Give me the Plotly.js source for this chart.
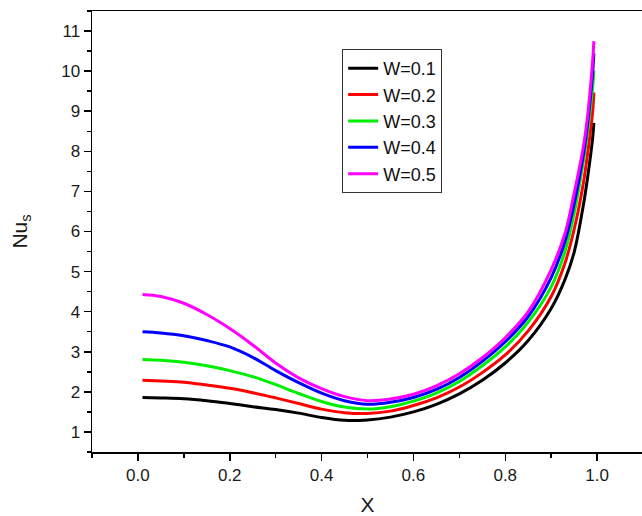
<!DOCTYPE html>
<html>
<head>
<meta charset="utf-8">
<script src="https://cdn.plot.ly/plotly-3.0.1.min.js"></script>
<style>html,body{margin:0;padding:0;overflow:hidden;background:#fff;}</style>
</head>
<body>
<div id="chart"></div>
<script>
const xValues = [0.01, 0.05, 0.1, 0.15, 0.2, 0.25, 0.3, 0.35, 0.4, 0.45, 0.5, 0.55, 0.6, 0.65, 0.7, 0.75, 0.8, 0.85, 0.9, 0.93, 0.95, 0.97, 0.98, 0.99, 0.993];
const seriesNames = ["W=0.1", "W=0.2", "W=0.3", "W=0.4", "W=0.5"];
const seriesColors = ["#000000", "#ff0000", "#00ee00", "#0000ff", "#ff00ff"];
const w01 = [1.86, 1.85, 1.83, 1.78, 1.71, 1.63, 1.56, 1.47, 1.36, 1.29, 1.30, 1.37, 1.50, 1.69, 1.95, 2.29, 2.72, 3.28, 4.08, 4.80, 5.48, 6.65, 7.40, 8.30, 8.71];
const w02 = [2.29, 2.27, 2.24, 2.17, 2.09, 1.98, 1.85, 1.71, 1.57, 1.48, 1.46, 1.52, 1.66, 1.85, 2.12, 2.48, 2.92, 3.52, 4.38, 5.21, 6.05, 7.20, 8.00, 8.95, 9.47];
const w03 = [2.81, 2.79, 2.74, 2.65, 2.53, 2.38, 2.18, 1.96, 1.76, 1.62, 1.57, 1.63, 1.77, 1.97, 2.26, 2.65, 3.12, 3.74, 4.62, 5.50, 6.45, 7.75, 8.55, 9.55, 10.01];
const w04 = [3.50, 3.47, 3.40, 3.28, 3.12, 2.86, 2.53, 2.23, 1.97, 1.78, 1.69, 1.74, 1.86, 2.06, 2.36, 2.76, 3.25, 3.88, 4.85, 5.75, 6.68, 7.90, 8.75, 9.90, 10.44];
const w05 = [4.43, 4.38, 4.21, 3.93, 3.58, 3.17, 2.72, 2.35, 2.08, 1.88, 1.78, 1.82, 1.94, 2.15, 2.45, 2.85, 3.35, 4.00, 5.05, 5.95, 6.95, 8.10, 8.95, 10.20, 10.75];
const xTitle = "X";
const yTitle = "Nu<sub>s</sub>";

const ySeries = [w01, w02, w03, w04, w05];
const traces = ySeries.map((ys, i) => ({
  x: xValues, y: ys, type: "scatter", mode: "lines",
  name: seriesNames[i],
  line: {color: seriesColors[i], width: 3, shape: "spline", smoothing: 1}
}));

const FONT = "Liberation Sans, Arial, sans-serif";
const axisCommon = {
  showline: true, linecolor: "#000", linewidth: 1.5, mirror: true,
  ticks: "outside", ticklen: 7, tickwidth: 1.5, tickcolor: "#000",
  showgrid: false, zeroline: false,
  tickfont: {family: FONT, size: 17, color: "#1a1a1a"}
};

const layout = {
  width: 643, height: 516,
  margin: {l: 92, r: 0, t: 11, b: 64},
  paper_bgcolor: "#fff", plot_bgcolor: "#fff",
  showlegend: true,
  xaxis: Object.assign({}, axisCommon, {
    range: [-0.1, 1.1], tick0: 0, dtick: 0.2, tickformat: ".1f",
    minor: {dtick: 0.1, tick0: 0, ticklen: 4, tickwidth: 1.5, tickcolor: "#000", ticks: "outside", showgrid: false},
    title: {text: xTitle, standoff: 17, font: {family: FONT, size: 21, color: "#1a1a1a"}}
  }),
  yaxis: Object.assign({}, axisCommon, {
    range: [0.5, 11.5], tick0: 0, dtick: 1,
    minor: {dtick: 0.5, tick0: 0, ticklen: 4, tickwidth: 1.5, tickcolor: "#000", ticks: "outside", showgrid: false},
    title: {text: yTitle, standoff: 28, font: {family: FONT, size: 21, color: "#1a1a1a"}}
  }),
  legend: {
    x: 0.454, y: 0.914, xanchor: "left", yanchor: "top",
    bgcolor: "#fff", bordercolor: "#333", borderwidth: 1,
    font: {family: FONT, size: 18, color: "#111"},
    tracegroupgap: 0
  }
};

Plotly.newPlot("chart", traces, layout, {displayModeBar: false, staticPlot: true});
</script>
</body>
</html>
